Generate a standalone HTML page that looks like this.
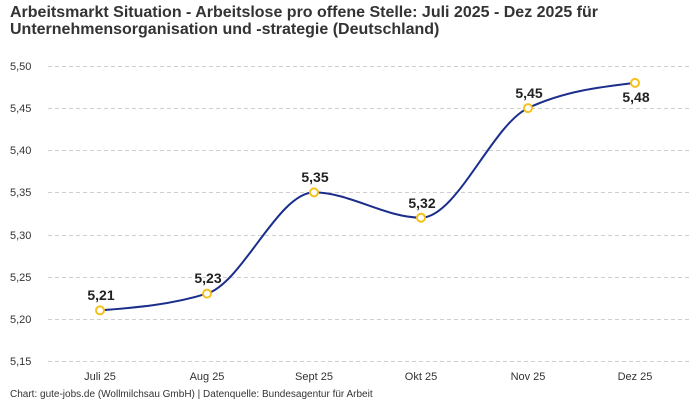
<!DOCTYPE html>
<html><head><meta charset="utf-8"><style>
html,body{margin:0;padding:0;background:#fff;}
body{width:700px;height:400px;overflow:hidden;font-family:"Liberation Sans",sans-serif;}
</style></head><body>
<svg width="700" height="400" viewBox="0 0 700 400" xmlns="http://www.w3.org/2000/svg" font-family="Liberation Sans, sans-serif">
<text x="10" y="17" font-size="16" font-weight="bold" fill="#333">Arbeitsmarkt Situation - Arbeitslose pro offene Stelle: Juli 2025 - Dez 2025 für</text>
<text x="10" y="34" font-size="16" font-weight="bold" fill="#333">Unternehmensorganisation und -strategie (Deutschland)</text>
<g stroke="#cfcfcf" stroke-width="1" stroke-dasharray="4,3">
<line x1="48" x2="689" y1="66.5" y2="66.5"/>
<line x1="48" x2="689" y1="108.5" y2="108.5"/>
<line x1="48" x2="689" y1="150.5" y2="150.5"/>
<line x1="48" x2="689" y1="192.5" y2="192.5"/>
<line x1="48" x2="689" y1="235.5" y2="235.5"/>
<line x1="48" x2="689" y1="277.5" y2="277.5"/>
<line x1="48" x2="689" y1="319.5" y2="319.5"/>
<line x1="48" x2="689" y1="361.5" y2="361.5"/>
</g>
<g font-size="11" fill="#333">
<text x="10" y="70">5,50</text>
<text x="10" y="112">5,45</text>
<text x="10" y="154">5,40</text>
<text x="10" y="196">5,35</text>
<text x="10" y="239">5,30</text>
<text x="10" y="281">5,25</text>
<text x="10" y="323">5,20</text>
<text x="10" y="365">5,15</text>
</g>
<g font-size="11" fill="#333" text-anchor="middle">
<text x="100" y="380">Juli 25</text>
<text x="207" y="380">Aug 25</text>
<text x="314" y="380">Sept 25</text>
<text x="421" y="380">Okt 25</text>
<text x="528" y="380">Nov 25</text>
<text x="635" y="380">Dez 25</text>
</g>
<path d="M100,310.4 C135.67,307.6 171.33,304.8 207,293.6 C242.67,282.4 278.33,192.4 314,192.4 C349.67,192.4 385.33,217.7 421,217.7 C456.67,217.7 492.33,124.9 528,108.1 C563.67,91.3 599.33,87.1 635,82.9" fill="none" stroke="#1b2e8c" stroke-width="2"/>
<g fill="#fff" stroke="#f5c21b" stroke-width="2">
<circle cx="100" cy="310.4" r="4"/>
<circle cx="207" cy="293.6" r="4"/>
<circle cx="314" cy="192.4" r="4"/>
<circle cx="421" cy="217.7" r="4"/>
<circle cx="528" cy="108.1" r="4"/>
<circle cx="635" cy="82.9" r="4"/>
</g>
<g font-size="14" font-weight="bold" fill="#222" text-anchor="middle">
<text x="101" y="300">5,21</text>
<text x="208" y="283">5,23</text>
<text x="315" y="182">5,35</text>
<text x="422" y="208">5,32</text>
<text x="529" y="98">5,45</text>
<text x="636" y="102">5,48</text>
</g>
<text x="10" y="397" font-size="10" fill="#333">Chart: gute-jobs.de (Wollmilchsau GmbH) | Datenquelle: Bundesagentur für Arbeit</text>
</svg>
</body></html>
